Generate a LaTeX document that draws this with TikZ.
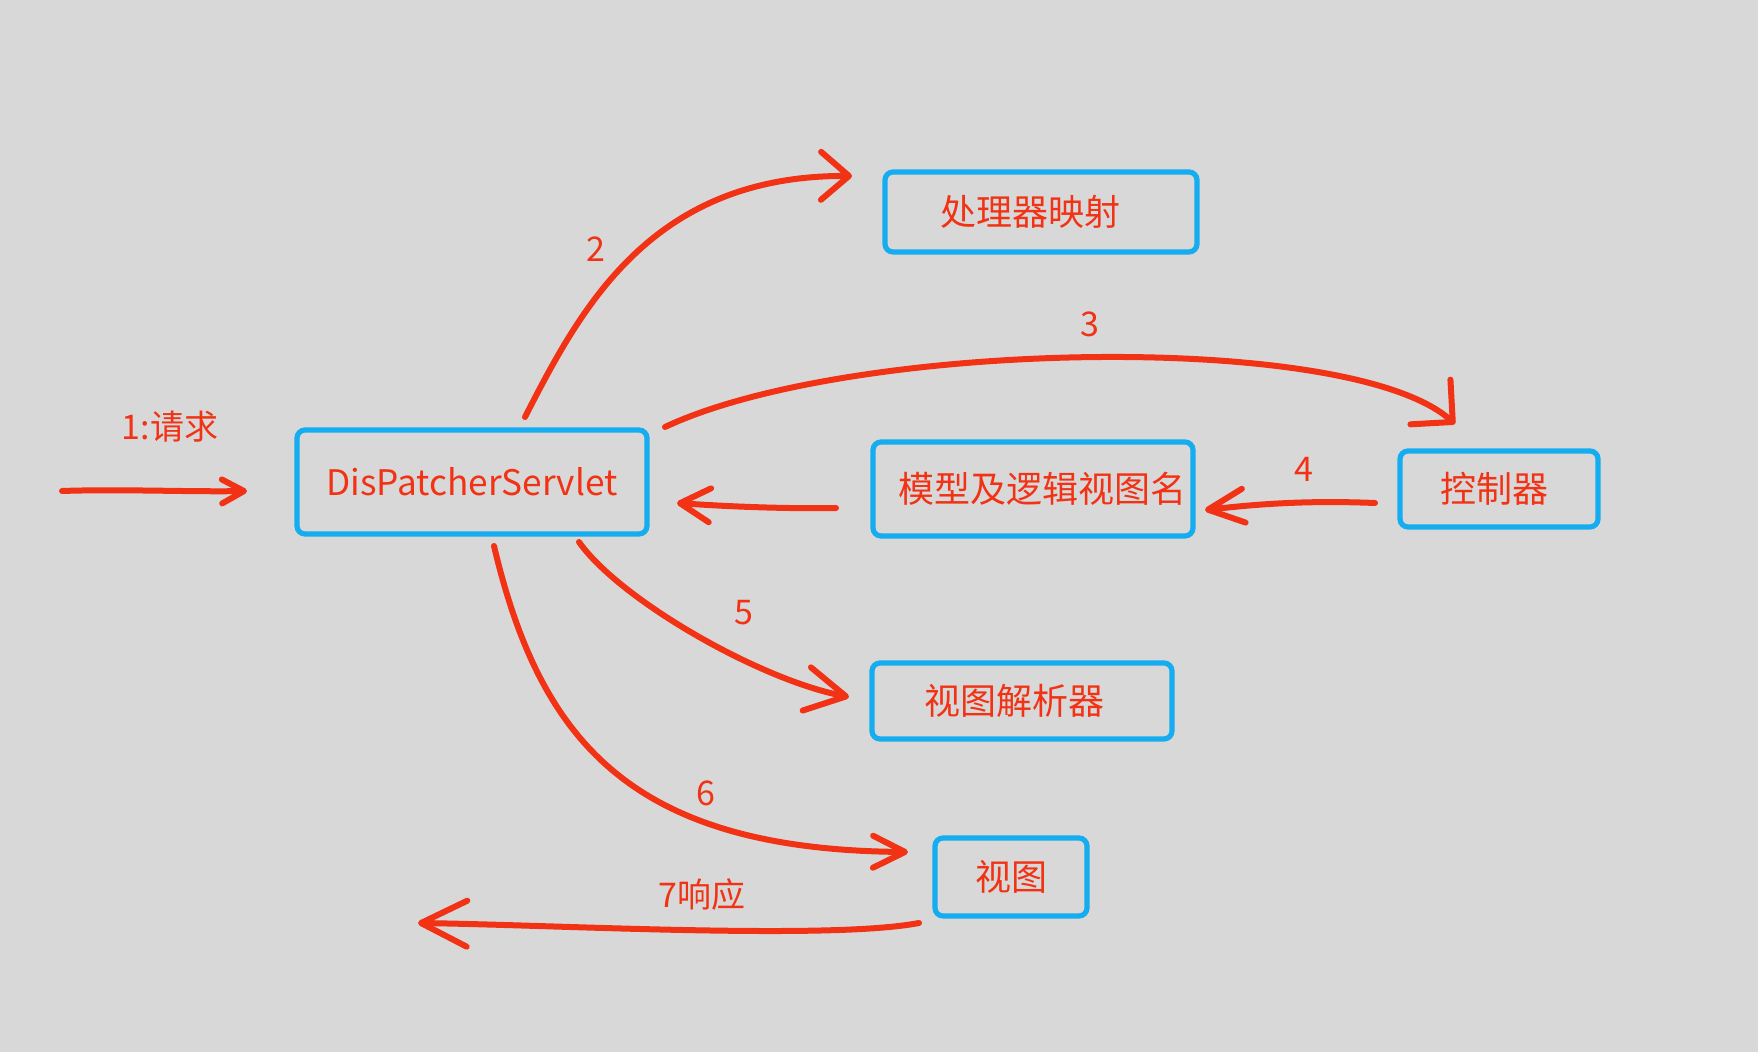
\documentclass[tikz,border=0pt]{standalone}
\usepackage{fontspec}
\setmainfont{Noto Sans CJK SC}
\usetikzlibrary{arrows.meta}
\definecolor{hred}{RGB}{242,50,20}
\definecolor{hblue}{RGB}{22,172,240}
\definecolor{paper}{RGB}{216,216,216}
\tikzset{
  box/.style={draw=hblue, line width=2.6pt, rounded corners=4pt, text=hred,
    font=\fontsize{18}{20}\selectfont, inner sep=0pt},
  lbl/.style={text=hred, font=\fontsize{17}{19}\selectfont, inner sep=0pt},
  flow/.style={draw=hred, line width=3pt, line cap=round, line join=round},
  hd/.style 2 args={-{Straight Barb[length=#1,width=#2,round]}}
}
\begin{document}
\begin{tikzpicture}[x=0.5pt,y=-0.5pt]
\useasboundingbox (0,0) rectangle (1758,1052);
\fill[paper] (0,0) rectangle (1758,1052);

% boxes
\node[box, minimum width=175pt, minimum height=52pt] (ds) at (472,482) {\fontsize{17.6}{20}\selectfont DisPatcherServlet};
\node[box, minimum width=156pt, minimum height=40pt] (hm) at (1041,212) {处理器映射\kern11pt\relax};
\node[box, minimum width=160pt, minimum height=47pt] (mv) at (1033,489) {\hspace{9pt}模型及逻辑视图名};
\node[box, minimum width=99pt, minimum height=38pt] (ct) at (1499,489) {控制器\kern5pt\relax};
\node[box, minimum width=150pt, minimum height=38pt] (vr) at (1022,701) {视图解析器\kern8pt\relax};
\node[box, minimum width=76pt, minimum height=39pt] (vw) at (1011,877) {视图};

% labels
\node[lbl] (l1) at (170,427) {1:请求};
\node[lbl] (l2) at (596,249) {2};
\node[lbl] (l3) at (1090,324) {3};
\node[lbl] (l4) at (1304,469) {4};
\node[lbl] (l5) at (744,613) {5};
\node[lbl] (l6) at (706,793) {6};
\node[lbl] (l7) at (702,895) {7响应};

% connector ends
\coordinate (in1) at (62,491);
\coordinate (in1e) at (247,491);
\coordinate (s2) at (525,417);
\coordinate (e2) at (852,176);
\coordinate (s3) at (665,427);
\coordinate (e3) at (1455,424);
\coordinate (s4) at (1375,503);
\coordinate (e4) at (1205,510);
\coordinate (sb) at (836,508);
\coordinate (eb) at (677,503);
\coordinate (s5) at (579,542);
\coordinate (e5) at (849,697);
\coordinate (s6) at (494,546);
\coordinate (e6) at (908,852);
\coordinate (s7) at (919,923);
\coordinate (e7) at (418,923);

% connectors
\draw[flow, hd={11pt}{12pt}] (in1) .. controls (120,489) and (190,492) .. (in1e);
\draw[flow, hd={14pt}{24pt}] (s2) .. controls (580,310) and (650,175) .. (e2);
\draw[flow, hd={15pt}{30pt}] (s3) .. controls (850,340) and (1350,330) .. (e3);
\draw[flow, hd={18pt}{17pt}] (s4) .. controls (1300,500) and (1250,505) .. (e4);
\draw[flow, hd={15pt}{17pt}] (sb) .. controls (780,509) and (720,506) .. (eb);
\draw[flow, hd={20pt}{22pt}] (s5) .. controls (620,600) and (760,680) .. (e5);
\draw[flow, hd={16pt}{16pt}] (s6) .. controls (540,740) and (630,850) .. (e6);
\draw[flow, hd={23pt}{23pt}] (s7) .. controls (830,940) and (560,925) .. (e7);
\end{tikzpicture}
\end{document}
